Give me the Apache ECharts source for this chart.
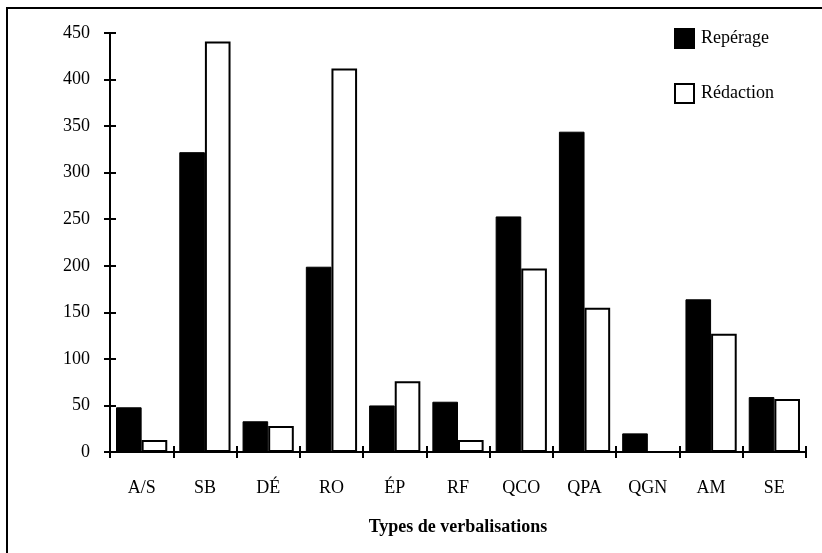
<!DOCTYPE html>
<html><head><meta charset="utf-8">
<script src="https://cdn.jsdelivr.net/npm/echarts@6/dist/echarts.min.js"></script>
<style>html,body{margin:0;padding:0;background:#fff}#c{width:822px;height:553px}</style>
</head><body><div id="c"></div>
<script>
var categories = ['A/S','SB','DÉ','RO','ÉP','RF','QCO','QPA','QGN','AM','SE'];
var reperage = [48,322,33,199,50,54,253,344,20,164,59];
var redaction = [13,441,28,412,76,13,197,155,0,127,57];
var yTicks = [0,50,100,150,200,250,300,350,400,450];

var font = '"Liberation Serif", "DejaVu Serif", serif';
var chart = echarts.init(document.getElementById('c'));
chart.setOption({
  animation:false,
  backgroundColor:'#fff',
  graphic:[{type:'rect',shape:{x:7,y:8,width:900,height:700},style:{fill:'none',stroke:'#000',lineWidth:2}}],
  legend:{
    orient:'vertical', left:669, top:23, itemGap:34, itemWidth:19, itemHeight:19,
    textStyle:{fontFamily:font,fontSize:18,color:'#000',padding:[0,0,0,2]},
    data:[{name:'Repérage',icon:'rect'},{name:'Rédaction',icon:'rect'}]
  },
  grid:{left:110,right:16,top:33,bottom:101},
  xAxis:[{
    type:'category', data:categories,
    axisLine:{lineStyle:{color:'#000',width:2}},
    axisTick:{show:true,alignWithLabel:false,length:6,lineStyle:{color:'#000',width:2}},
    axisLabel:{fontFamily:font,fontSize:18,color:'#000',margin:27},
    name:'Types de verbalisations', nameLocation:'middle', nameGap:66,
    nameTextStyle:{fontFamily:font,fontSize:18,fontWeight:'bold',color:'#000'}
  },{
    type:'category', data:categories, position:'bottom',
    axisLine:{show:false},
    axisTick:{show:true,inside:true,length:6,lineStyle:{color:'#000',width:2}},
    axisLabel:{show:false}
  }],
  yAxis:[{
    type:'value', min:0, max:450, interval:50,
    axisLine:{show:true,lineStyle:{color:'#000',width:2}},
    axisTick:{show:true,length:6,lineStyle:{color:'#000',width:2}},
    axisLabel:{fontFamily:font,fontSize:18,color:'#000',margin:20,
      formatter:function(v){return yTicks.indexOf(v)>=0?String(v):'';}},
    splitLine:{show:false}
  },{
    type:'value', min:0, max:450, interval:50, position:'left',
    axisLine:{show:false},
    axisTick:{show:true,inside:true,length:6,lineStyle:{color:'#000',width:2}},
    axisLabel:{show:false}, splitLine:{show:false}
  }],
  series:[{
    name:'Repérage', type:'bar', data:reperage, barGap:'0%', barCategoryGap:'19%',
    itemStyle:{color:'#000',borderColor:'#000',borderWidth:1}
  },{
    name:'Rédaction', type:'bar', data:redaction, barGap:'0%', barCategoryGap:'19%',
    itemStyle:{color:'#fff',borderColor:'#000',borderWidth:2}
  }]
});
</script></body></html>
